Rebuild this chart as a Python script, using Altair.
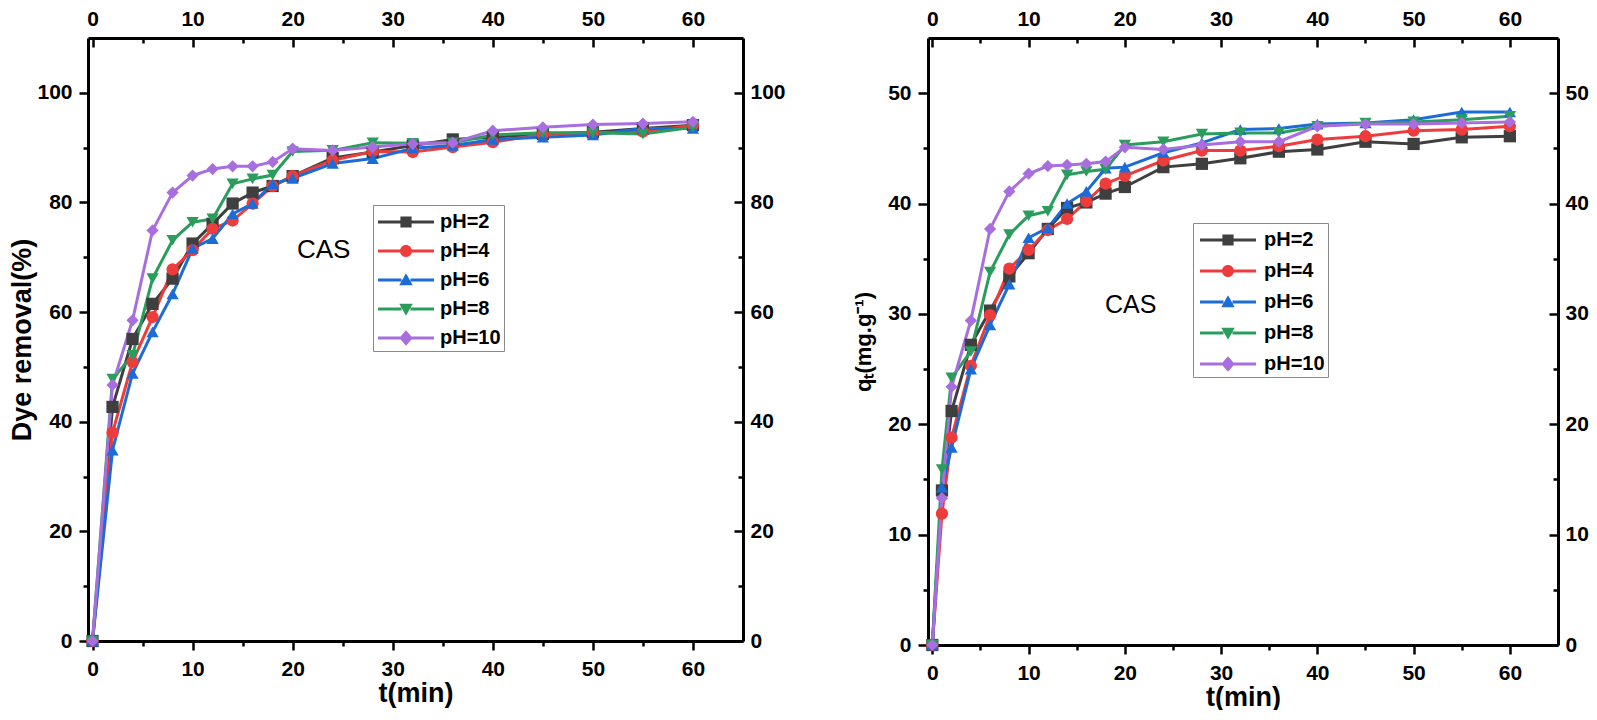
import altair as alt
import pandas as pd

# ---------------- data ----------------
ph_labels = ["pH=2", "pH=4", "pH=6", "pH=8", "pH=10"]
colors = ["#3f3f3f", "#ee3b3b", "#1c6cd8", "#2a9d5c", "#a86ee0"]
shapes = ["square", "circle", "triangle-up", "triangle-down", "diamond"]

# left panel: dye removal (%)
t_left = [0, 2, 4, 6, 8, 10, 12, 14, 16, 18, 20, 24, 28, 32, 36, 40, 45, 50, 55, 60]
removal_ph2 = [0, 42.7, 55.1, 61.5, 66.1, 72.5, 76.1, 79.8, 81.8, 83.0, 84.8, 88.1, 89.2, 90.4, 91.5, 91.9, 92.5, 92.8, 93.5, 94.1]
removal_ph4 = [0, 38.0, 50.9, 59.1, 67.8, 71.3, 75.2, 76.7, 79.8, 83.0, 84.8, 87.7, 89.3, 89.2, 90.1, 91.0, 92.4, 92.7, 92.9, 94.1]
removal_ph6 = [0, 34.8, 48.8, 56.4, 63.3, 71.6, 73.4, 77.9, 79.8, 83.4, 84.4, 87.1, 88.0, 89.9, 90.4, 91.5, 91.9, 92.3, 93.5, 93.5]
removal_ph8 = [0, 47.8, 52.1, 66.1, 73.1, 76.4, 77.0, 83.4, 84.3, 85.0, 89.3, 89.5, 90.9, 90.8, 90.9, 92.3, 92.7, 92.7, 92.5, 93.7]
removal_ph10 = [0, 46.7, 58.5, 74.9, 81.8, 84.9, 86.1, 86.6, 86.6, 87.4, 89.8, 89.5, 90.1, 90.7, 90.9, 93.1, 93.7, 94.2, 94.4, 94.7]

# right panel: qt (mg/g)
t_right = [0, 1, 2, 4, 6, 8, 10, 12, 14, 16, 18, 20, 24, 28, 32, 36, 40, 45, 50, 55, 60]
qt_ph2 = [0, 14.0, 21.2, 27.2, 30.3, 33.4, 35.5, 37.7, 39.6, 40.1, 40.9, 41.5, 43.3, 43.6, 44.1, 44.7, 44.9, 45.6, 45.4, 46.0, 46.1]
qt_ph4 = [0, 11.9, 18.8, 25.3, 29.9, 34.1, 35.8, 37.6, 38.6, 40.2, 41.8, 42.5, 43.9, 44.8, 44.8, 45.2, 45.8, 46.1, 46.6, 46.7, 47.0]
qt_ph6 = [0, 14.3, 17.9, 25.0, 29.0, 32.7, 36.9, 37.8, 40.0, 41.1, 43.2, 43.3, 44.6, 45.5, 46.7, 46.8, 47.2, 47.3, 47.6, 48.3, 48.3]
qt_ph8 = [0, 15.9, 24.2, 26.6, 33.8, 37.2, 38.9, 39.3, 42.6, 42.9, 43.1, 45.3, 45.6, 46.3, 46.4, 46.4, 47.0, 47.3, 47.4, 47.6, 47.9]
qt_ph10 = [0, 13.3, 23.4, 29.4, 37.7, 41.1, 42.7, 43.4, 43.5, 43.6, 43.8, 45.1, 44.9, 45.3, 45.6, 45.6, 47.0, 47.2, 47.2, 47.3, 47.4]

# annotation
note_text = ["CAS"]
note_left_t = [23.1]
note_left_v = [69.9]
note_right_t = [20.6]
note_right_v = [30.1]

# ticks
x_ticks = list(range(0, 61, 5))
left_y_ticks = list(range(0, 101, 10))
right_y_ticks = list(range(0, 51, 5))

# legend glyphs: line with marker (custom symbol paths)
line_part = "M-2,-0.11H-0.32V0.11H-2Z M0.32,-0.11H2V0.11H0.32Z "
legend_glyphs = [
    line_part + "M-0.4,-0.4H0.4V0.4H-0.4Z",
    line_part + "M-0.43,0A0.43,0.43,0,1,1,0.43,0A0.43,0.43,0,1,1,-0.43,0Z",
    line_part + "M0,-0.48L0.48,0.38L-0.48,0.38Z",
    line_part + "M0,0.48L-0.48,-0.38L0.48,-0.38Z",
    line_part + "M0,-0.55L0.48,0L0,0.55L-0.48,0Z",
]


def long_df(t, series):
    rows = []
    for lab, vals in zip(ph_labels, series):
        for ti, v in zip(t, vals):
            rows.append({"t": ti, "v": v, "ph": lab})
    return pd.DataFrame(rows)


df_left = long_df(t_left, [removal_ph2, removal_ph4, removal_ph6, removal_ph8, removal_ph10])
df_right = long_df(t_right, [qt_ph2, qt_ph4, qt_ph6, qt_ph8, qt_ph10])

FONT = "Liberation Sans"
AX = dict(
    domainColor="black", domainWidth=3, tickColor="black", tickWidth=2.5,
    labelFont=FONT, labelFontSize=21, labelFontWeight="bold", labelColor="black",
    grid=False, titleFont=FONT, titleFontWeight="bold", titleColor="black",
)


def panel(df, ydom, yvals, ymod, ytitle, ytitle_size, w, h, note_t, note_v, note_size,
          leg_x, leg_y, sym_off, lab_off, row_pad, top_pad, right_pad, left_pad, left_tick, ytitle_pad):
    xscale = alt.Scale(domain=[-0.45, 65], nice=False, zero=False)
    yscale = alt.Scale(domain=ydom, nice=False, zero=False)
    col = alt.Color("ph:N", scale=alt.Scale(domain=ph_labels, range=colors), legend=None)
    xmaj = "datum.value % 10 === 0"
    ymaj = f"datum.value % {ymod} === 0"

    lines = alt.Chart(df).mark_line(strokeWidth=3).encode(
        x=alt.X("t:Q", scale=xscale, axis=alt.Axis(
            orient="bottom", values=x_ticks, title="t(min)", titleFontSize=27, titlePadding=1,
            labelExpr=f"{xmaj} ? datum.label : ''", labelPadding=8,
            tickSize={"expr": f"{xmaj} ? 9 : 5"}, **AX)),
        y=alt.Y("v:Q", scale=yscale, axis=alt.Axis(
            orient="left", values=yvals, title=ytitle, titleFontSize=ytitle_size, titlePadding=ytitle_pad,
            labelExpr=f"{ymaj} ? datum.label : ''", labelPadding=left_pad,
            tickSize={"expr": f"{ymaj} ? {left_tick} : 5"}, **AX)),
        color=col,
    )
    points = alt.Chart(df).mark_point(filled=True, size=150, opacity=1, strokeWidth=0).encode(
        x=alt.X("t:Q", scale=xscale, axis=alt.Axis(
            orient="top", values=x_ticks, title=None,
            labelExpr=f"{xmaj} ? datum.label : ''", labelPadding=top_pad,
            tickSize={"expr": f"{xmaj} ? -9 : -5"}, **AX)),
        y=alt.Y("v:Q", scale=yscale, axis=alt.Axis(
            orient="right", values=yvals, title=None,
            labelExpr=f"{ymaj} ? datum.label : ''", labelPadding=right_pad, labelAlign="left",
            tickSize={"expr": f"{ymaj} ? -9 : -5"}, **AX)),
        color=col,
        shape=alt.Shape("ph:N", scale=alt.Scale(domain=ph_labels, range=shapes), legend=None),
    )
    note_df = pd.DataFrame({"t": note_t, "v": note_v, "txt": note_text})
    note = alt.Chart(note_df).mark_text(
        font=FONT, fontSize=note_size, color="black", align="center", baseline="alphabetic"
    ).encode(
        x=alt.X("t:Q", scale=xscale, axis=None),
        y=alt.Y("v:Q", scale=yscale, axis=None),
        text="txt:N",
    )
    leg = alt.Legend(
        title=None, orient="none", legendX=leg_x, legendY=leg_y,
        strokeColor="#8a8a8a", padding=3, rowPadding=row_pad,
        symbolSize=784, symbolStrokeWidth=0, symbolOffset=sym_off, symbolOpacity=1,
        labelFont=FONT, labelFontSize=20, labelFontWeight="bold", labelColor="black",
        labelOffset=lab_off, labelBaseline="middle",
    )
    legend_layer = alt.Chart(df).mark_point(filled=True, opacity=1).encode(
        color=alt.Color("ph:N", scale=alt.Scale(domain=ph_labels, range=colors), legend=leg),
        shape=alt.Shape("ph:N", scale=alt.Scale(domain=ph_labels, range=legend_glyphs), legend=leg),
    ).transform_filter("false")

    return alt.layer(lines, points, note, legend_layer).resolve_scale(
        color="independent", shape="independent"
    ).resolve_axis(x="independent", y="independent").properties(width=w, height=h)


left = panel(df_left, [0, 110], left_y_ticks, 20, "Dye removal(%)", 27, 655, 603,
             note_left_t, note_left_v, 26, 285, 167, 16, 20, 5, 18, 16, 7, 9, 0)
right = panel(df_right, [0, 55], right_y_ticks, 10, "qₜ(mg.g⁻¹)", 22, 630, 607,
              note_right_t, note_right_v, 25, 265, 185, 18, 22, 7, 18, 16, 7, 10, 12)

chart = alt.hconcat(left, right, spacing=66).properties(
    padding={"left": 0, "top": 0, "right": 0, "bottom": 0}
).configure_view(stroke=None)

chart.save("out.html", embed_options={"renderer": "svg", "actions": False})
